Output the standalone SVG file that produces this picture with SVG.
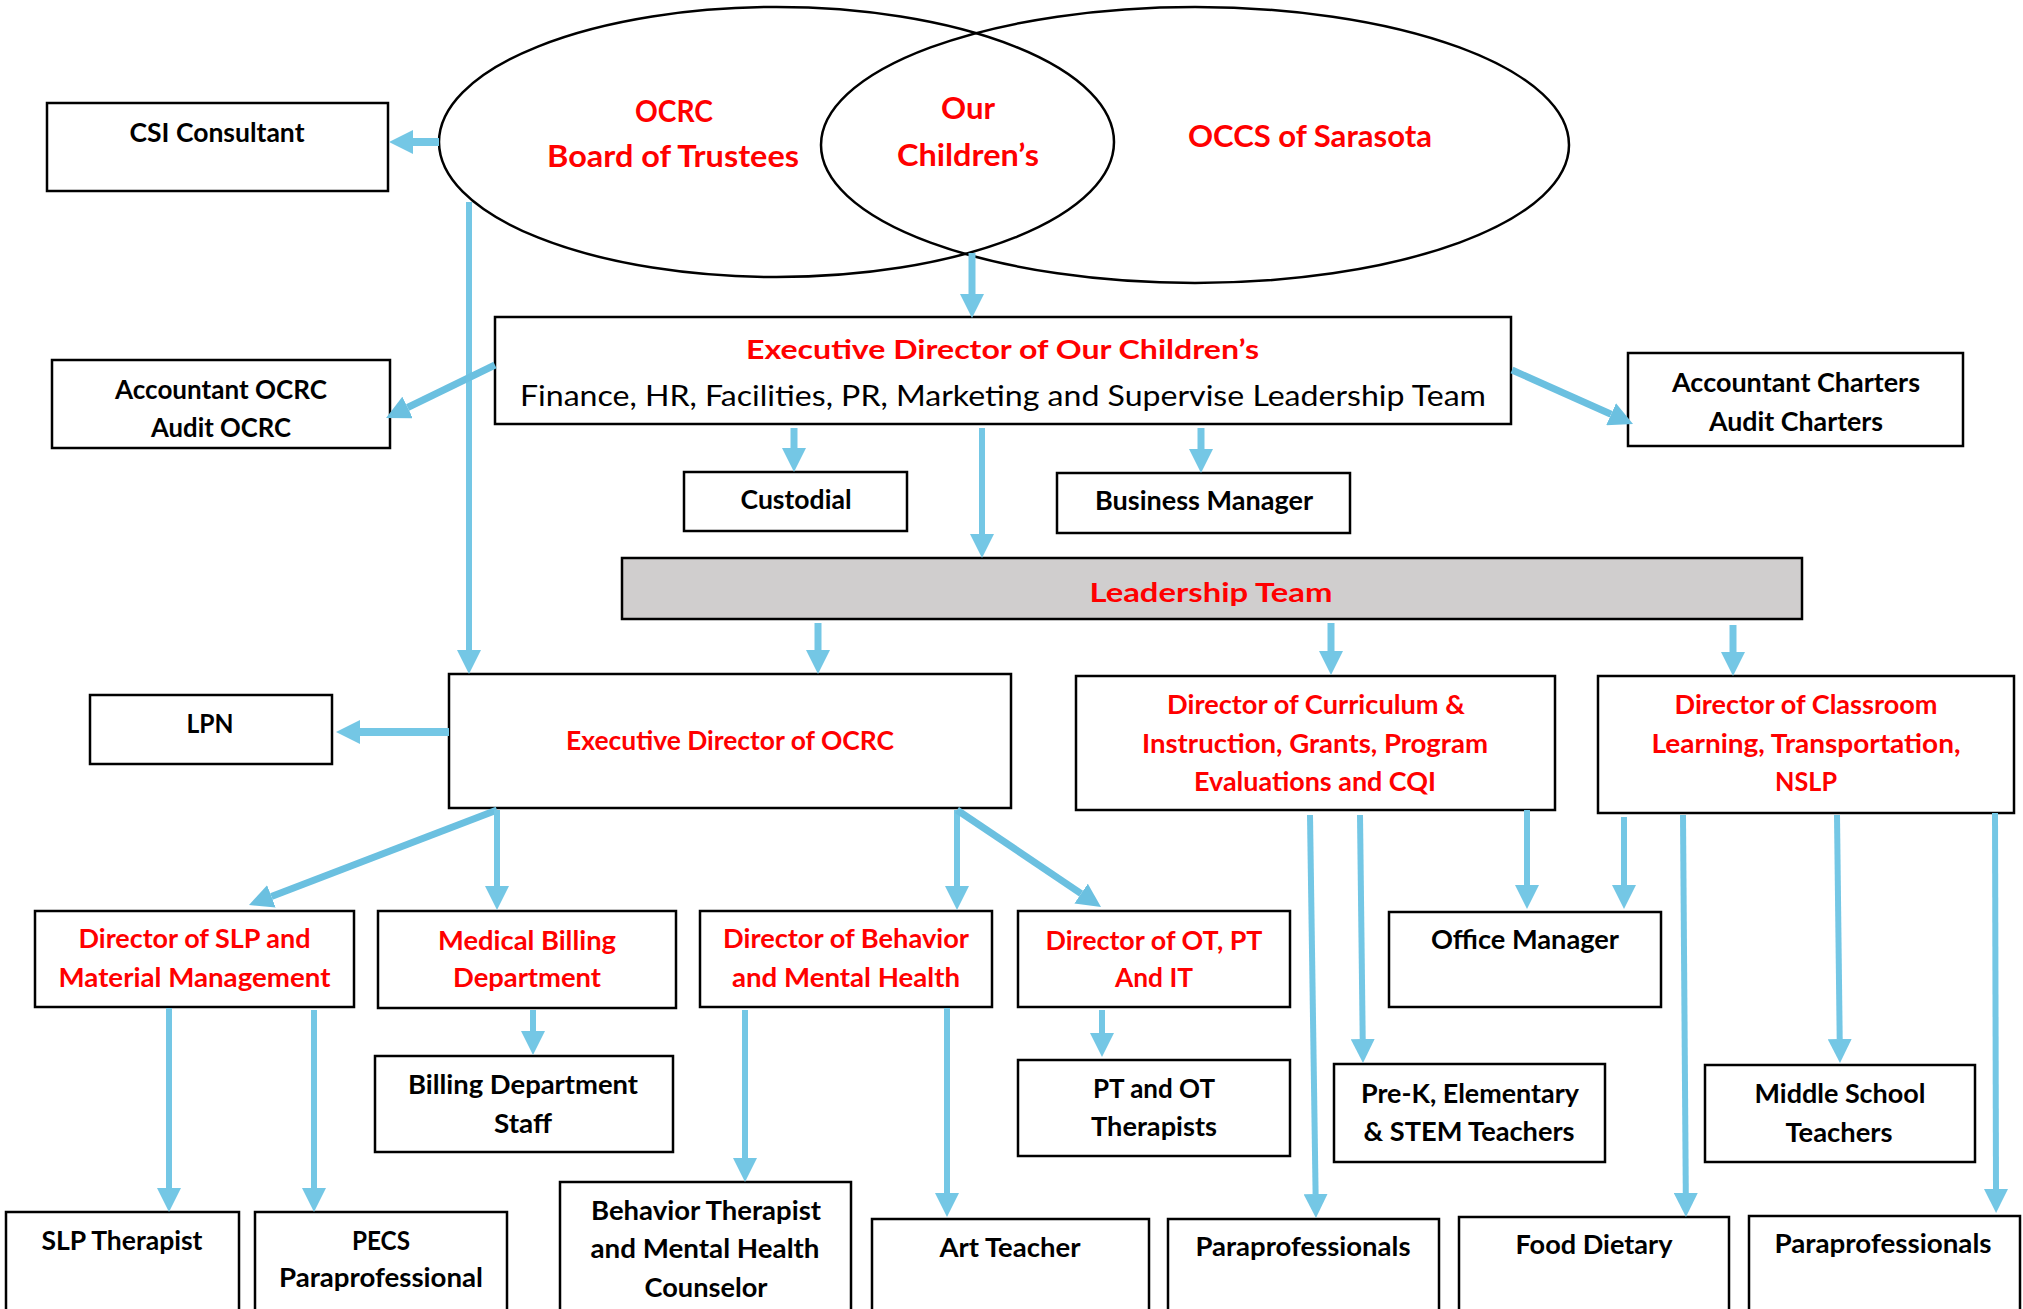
<svg xmlns="http://www.w3.org/2000/svg" width="2023" height="1309" viewBox="0 0 2023 1309">
<style>
.box{fill:#fff;stroke:#000;stroke-width:2.5}
.lead{fill:#D0CECE;stroke:#000;stroke-width:2.5}
.ell{fill:none;stroke:#000;stroke-width:2.5}
text{font-family:Lato,"Open Sans","Liberation Sans",sans-serif;font-weight:bold;font-size:26px;text-anchor:middle}
.r{fill:#FF0000}
.k{fill:#000}
.big{font-size:30px}
.reg{font-weight:normal;font-size:28px}
.conn line{stroke:#74C7E5;stroke-width:7;marker-end:url(#ah)}
.conn line.thin{stroke-width:6}
.conn line.diag{stroke:#6BC0E0;marker-end:url(#ahd)}
</style>
<defs>
<marker id="ah" markerUnits="userSpaceOnUse" markerWidth="24" markerHeight="24" refX="0" refY="12" orient="auto" viewBox="0 0 24 24">
<path d="M0,0 L24,12 L0,24 Z" fill="#74C7E5"/>
</marker>
<marker id="ahd" markerUnits="userSpaceOnUse" markerWidth="24" markerHeight="24" refX="0" refY="12" orient="auto" viewBox="0 0 24 24">
<path d="M0,0 L24,12 L0,24 Z" fill="#6BC0E0"/>
</marker>
</defs>
<rect width="2023" height="1309" fill="#fff"/>

<g id="ellipses">
<ellipse class="ell" cx="776.5" cy="142" rx="337.5" ry="135"/>
<ellipse class="ell" cx="1195" cy="145" rx="374" ry="138"/>
</g>
<g id="ocrc-board">
<text class="r big" x="674" y="122" textLength="78" lengthAdjust="spacingAndGlyphs">OCRC</text>
<text class="r big" x="673" y="167" textLength="252" lengthAdjust="spacingAndGlyphs">Board of Trustees</text>
</g>
<g id="our-childrens">
<text class="r big" x="968" y="119" textLength="54" lengthAdjust="spacingAndGlyphs">Our</text>
<text class="r big" x="968" y="166" textLength="142" lengthAdjust="spacingAndGlyphs">Children’s</text>
</g>
<g id="occs">
<text class="r big" x="1310" y="147" textLength="244" lengthAdjust="spacingAndGlyphs">OCCS of Sarasota</text>
</g>

<g id="csi">
<rect class="box" x="47" y="103" width="341" height="88"/>
<text class="k" x="217" y="142" textLength="175" lengthAdjust="spacingAndGlyphs">CSI Consultant</text>
</g>
<g id="acc-ocrc">
<rect class="box" x="52" y="360" width="338" height="88"/>
<text class="k" x="221" y="399" textLength="212" lengthAdjust="spacingAndGlyphs">Accountant OCRC</text>
<text class="k" x="221" y="437" textLength="140" lengthAdjust="spacingAndGlyphs">Audit OCRC</text>
</g>
<g id="exec-oc">
<rect class="box" x="495" y="317" width="1016" height="107"/>
<text class="r" x="1002.5" y="359" textLength="513" lengthAdjust="spacingAndGlyphs">Executive Director of Our Children’s</text>
<text class="k reg" x="1003" y="406" textLength="966" lengthAdjust="spacingAndGlyphs">Finance, HR, Facilities, PR, Marketing and Supervise Leadership Team</text>
</g>
<g id="acc-charters">
<rect class="box" x="1628" y="353" width="335" height="93"/>
<text class="k" x="1796" y="392" textLength="248" lengthAdjust="spacingAndGlyphs">Accountant Charters</text>
<text class="k" x="1796" y="431" textLength="174" lengthAdjust="spacingAndGlyphs">Audit Charters</text>
</g>
<g id="custodial">
<rect class="box" x="684" y="472" width="223" height="59"/>
<text class="k" x="796" y="509" textLength="111" lengthAdjust="spacingAndGlyphs">Custodial</text>
</g>
<g id="business">
<rect class="box" x="1057" y="473" width="293" height="60"/>
<text class="k" x="1204" y="510" textLength="218" lengthAdjust="spacingAndGlyphs">Business Manager</text>
</g>
<g id="leadership">
<rect class="lead" x="622" y="558" width="1180" height="61"/>
<text class="r" x="1211" y="602" textLength="243" lengthAdjust="spacingAndGlyphs">Leadership Team</text>
</g>
<g id="lpn">
<rect class="box" x="90" y="695" width="242" height="69"/>
<text class="k" x="210" y="733" textLength="47" lengthAdjust="spacingAndGlyphs">LPN</text>
</g>
<g id="exec-ocrc">
<rect class="box" x="449" y="674" width="562" height="134"/>
<text class="r" x="730" y="750" textLength="328" lengthAdjust="spacingAndGlyphs">Executive Director of OCRC</text>
</g>
<g id="dir-curriculum">
<rect class="box" x="1076" y="676" width="479" height="134"/>
<text class="r" x="1316" y="714" textLength="298" lengthAdjust="spacingAndGlyphs">Director of Curriculum &amp;</text>
<text class="r" x="1315" y="753" textLength="346" lengthAdjust="spacingAndGlyphs">Instruction, Grants, Program</text>
<text class="r" x="1315" y="791" textLength="242" lengthAdjust="spacingAndGlyphs">Evaluations and CQI</text>
</g>
<g id="dir-classroom">
<rect class="box" x="1598" y="676" width="416" height="137"/>
<text class="r" x="1806" y="714" textLength="263" lengthAdjust="spacingAndGlyphs">Director of Classroom</text>
<text class="r" x="1806" y="753" textLength="309" lengthAdjust="spacingAndGlyphs">Learning, Transportation,</text>
<text class="r" x="1806" y="791" textLength="62" lengthAdjust="spacingAndGlyphs">NSLP</text>
</g>
<g id="dir-slp">
<rect class="box" x="35" y="911" width="319" height="96"/>
<text class="r" x="194.5" y="948" textLength="232" lengthAdjust="spacingAndGlyphs">Director of SLP and</text>
<text class="r" x="194.5" y="987" textLength="272" lengthAdjust="spacingAndGlyphs">Material Management</text>
</g>
<g id="medical-billing">
<rect class="box" x="378" y="911" width="298" height="97"/>
<text class="r" x="527" y="950" textLength="178" lengthAdjust="spacingAndGlyphs">Medical Billing</text>
<text class="r" x="527" y="987" textLength="148" lengthAdjust="spacingAndGlyphs">Department</text>
</g>
<g id="dir-behavior">
<rect class="box" x="700" y="911" width="292" height="96"/>
<text class="r" x="846" y="948" textLength="246" lengthAdjust="spacingAndGlyphs">Director of Behavior</text>
<text class="r" x="846" y="987" textLength="228" lengthAdjust="spacingAndGlyphs">and Mental Health</text>
</g>
<g id="dir-ot">
<rect class="box" x="1018" y="911" width="272" height="96"/>
<text class="r" x="1154" y="950" textLength="217" lengthAdjust="spacingAndGlyphs">Director of OT, PT</text>
<text class="r" x="1154" y="987" textLength="78" lengthAdjust="spacingAndGlyphs">And IT</text>
</g>
<g id="office-manager">
<rect class="box" x="1389" y="912" width="272" height="95"/>
<text class="k" x="1525" y="949" textLength="188" lengthAdjust="spacingAndGlyphs">Office Manager</text>
</g>
<g id="billing-staff">
<rect class="box" x="375" y="1056" width="298" height="96"/>
<text class="k" x="523" y="1094" textLength="230" lengthAdjust="spacingAndGlyphs">Billing Department</text>
<text class="k" x="523" y="1133" textLength="58" lengthAdjust="spacingAndGlyphs">Staff</text>
</g>
<g id="pt-ot">
<rect class="box" x="1018" y="1060" width="272" height="96"/>
<text class="k" x="1154" y="1098" textLength="122" lengthAdjust="spacingAndGlyphs">PT and OT</text>
<text class="k" x="1154" y="1136" textLength="126" lengthAdjust="spacingAndGlyphs">Therapists</text>
</g>
<g id="prek">
<rect class="box" x="1334" y="1064" width="271" height="98"/>
<text class="k" x="1470" y="1103" textLength="218" lengthAdjust="spacingAndGlyphs">Pre-K, Elementary</text>
<text class="k" x="1469" y="1141" textLength="211" lengthAdjust="spacingAndGlyphs">&amp; STEM Teachers</text>
</g>
<g id="middle">
<rect class="box" x="1705" y="1065" width="270" height="97"/>
<text class="k" x="1840" y="1103" textLength="171" lengthAdjust="spacingAndGlyphs">Middle School</text>
<text class="k" x="1839" y="1142" textLength="107" lengthAdjust="spacingAndGlyphs">Teachers</text>
</g>
<g id="slp-therapist">
<rect class="box" x="6" y="1212" width="233" height="110"/>
<text class="k" x="122" y="1250" textLength="161" lengthAdjust="spacingAndGlyphs">SLP Therapist</text>
</g>
<g id="pecs">
<rect class="box" x="255" y="1212" width="252" height="110"/>
<text class="k" x="381" y="1250" textLength="58" lengthAdjust="spacingAndGlyphs">PECS</text>
<text class="k" x="381" y="1287" textLength="204" lengthAdjust="spacingAndGlyphs">Paraprofessional</text>
</g>
<g id="behavior-therapist">
<rect class="box" x="560" y="1182" width="291" height="140"/>
<text class="k" x="706" y="1220" textLength="230" lengthAdjust="spacingAndGlyphs">Behavior Therapist</text>
<text class="k" x="705" y="1258" textLength="229" lengthAdjust="spacingAndGlyphs">and Mental Health</text>
<text class="k" x="706" y="1297" textLength="123" lengthAdjust="spacingAndGlyphs">Counselor</text>
</g>
<g id="art-teacher">
<rect class="box" x="872" y="1219" width="277" height="103"/>
<text class="k" x="1010" y="1257" textLength="141" lengthAdjust="spacingAndGlyphs">Art Teacher</text>
</g>
<g id="para-1">
<rect class="box" x="1168" y="1219" width="271" height="103"/>
<text class="k" x="1303" y="1256" textLength="215" lengthAdjust="spacingAndGlyphs">Paraprofessionals</text>
</g>
<g id="food">
<rect class="box" x="1459" y="1217" width="270" height="105"/>
<text class="k" x="1594" y="1254" textLength="157" lengthAdjust="spacingAndGlyphs">Food Dietary</text>
</g>
<g id="para-2">
<rect class="box" x="1749" y="1216" width="271" height="106"/>
<text class="k" x="1883" y="1253" textLength="217" lengthAdjust="spacingAndGlyphs">Paraprofessionals</text>
</g>

<g id="connectors" class="conn">
<line x1="439" y1="142" x2="413" y2="142" style="stroke-width:8"/>
<line class="thin" x1="469" y1="202" x2="469" y2="650"/>
<line x1="972" y1="253" x2="972" y2="294"/>
<line class="diag" x1="495" y1="365" x2="407.6" y2="407.5"/>
<line class="diag" x1="1512" y1="370" x2="1611.1" y2="414.2"/>
<line x1="794" y1="428" x2="794" y2="448"/>
<line x1="1201" y1="428" x2="1201" y2="449"/>
<line class="thin" x1="982" y1="428" x2="982" y2="534"/>
<line x1="818" y1="623" x2="818" y2="650"/>
<line x1="1331" y1="623" x2="1331" y2="651"/>
<line x1="1733" y1="625" x2="1733" y2="652"/>
<line x1="449" y1="732" x2="360" y2="732" style="stroke-width:8"/>
<line class="diag" x1="497" y1="810" x2="271.4" y2="896.4"/>
<line class="thin" x1="497" y1="810" x2="497" y2="886"/>
<line class="thin" x1="957" y1="810" x2="957" y2="886"/>
<line class="diag" x1="957" y1="810" x2="1081.1" y2="893.6"/>
<line class="thin" x1="1527" y1="810" x2="1527" y2="885"/>
<line class="thin" x1="1624" y1="817" x2="1624" y2="885"/>
<line class="thin" x1="1310" y1="815" x2="1315.6" y2="1194"/>
<line class="thin" x1="1360" y1="815" x2="1362.7" y2="1039"/>
<line class="thin" x1="1683" y1="815" x2="1685.8" y2="1193"/>
<line class="thin" x1="1837" y1="815" x2="1839.7" y2="1039"/>
<line class="thin" x1="1995" y1="813" x2="1996" y2="1189"/>
<line class="thin" x1="169" y1="1008" x2="169" y2="1188"/>
<line class="thin" x1="314" y1="1010" x2="314" y2="1188"/>
<line class="thin" x1="533" y1="1010" x2="533" y2="1031"/>
<line class="thin" x1="745" y1="1010" x2="745" y2="1158"/>
<line class="thin" x1="947" y1="1008" x2="947" y2="1193"/>
<line class="thin" x1="1102" y1="1010" x2="1102" y2="1033"/>
</g>
</svg>
